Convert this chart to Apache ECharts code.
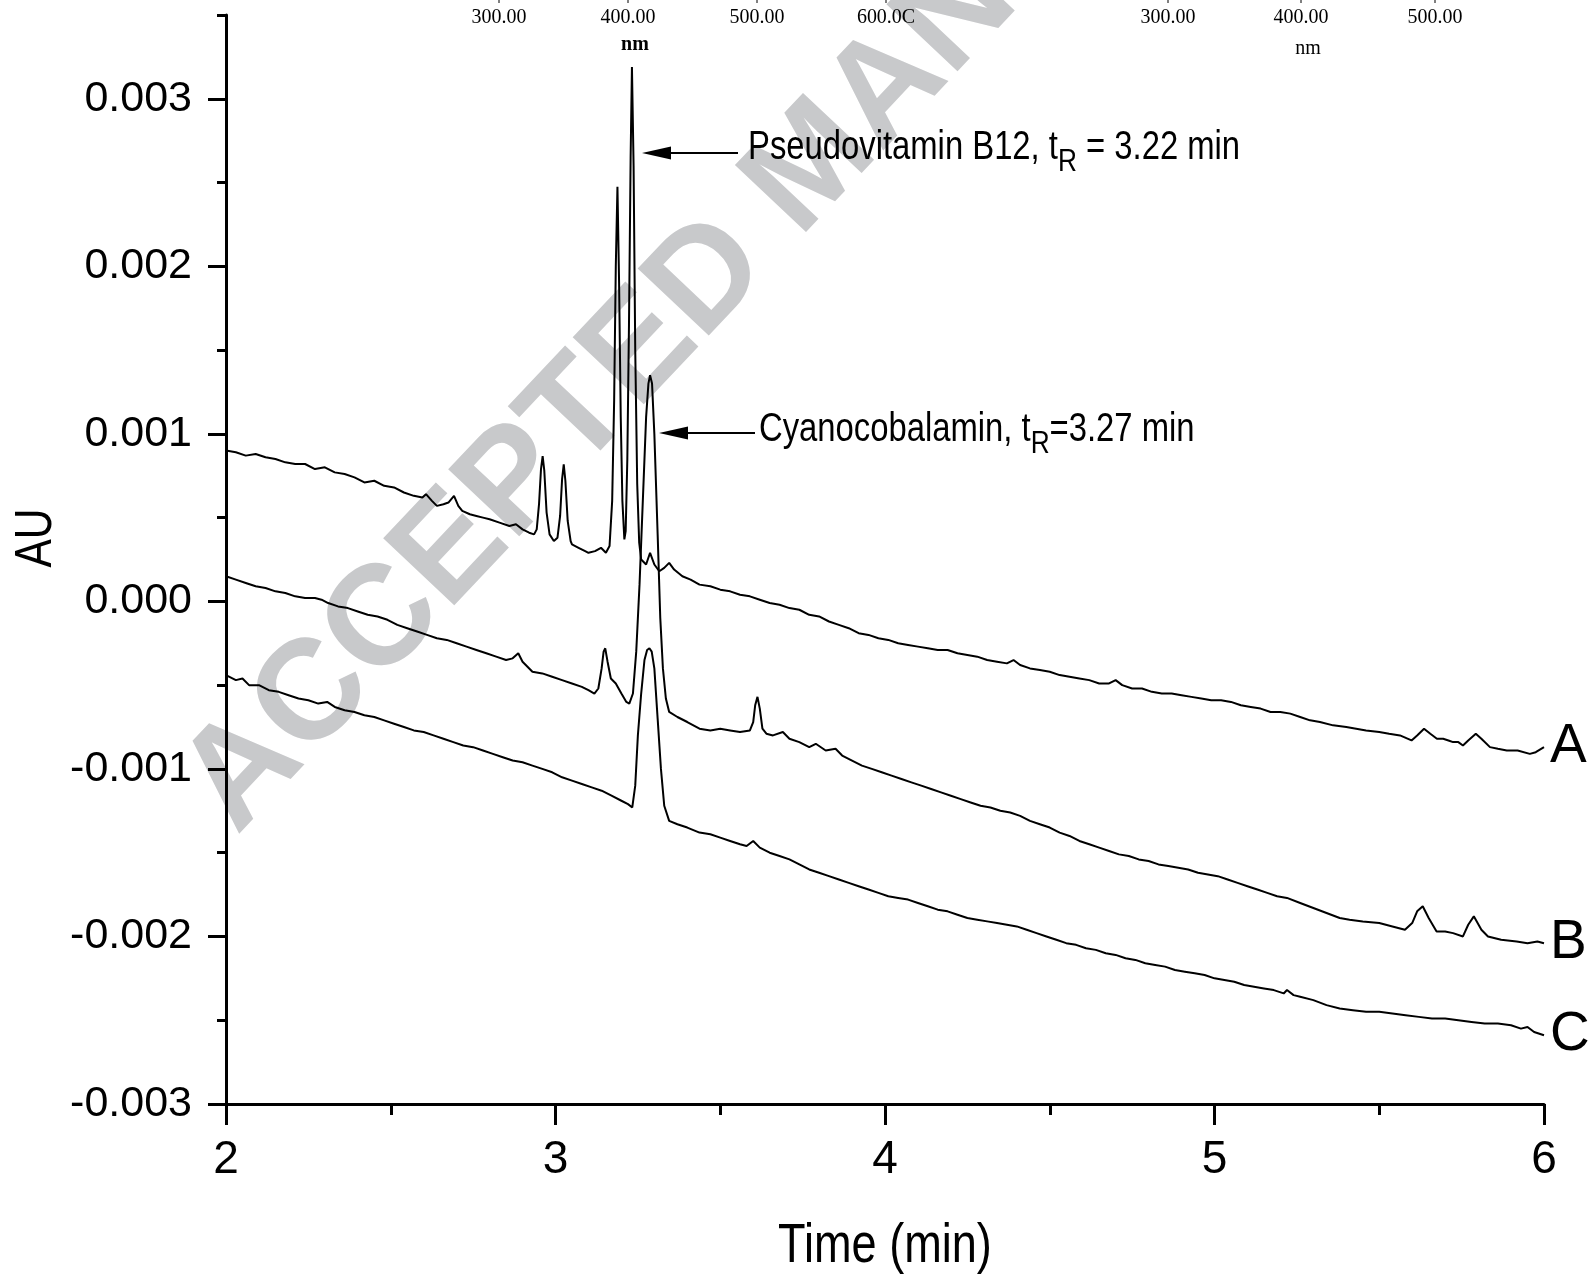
<!DOCTYPE html>
<html>
<head>
<meta charset="utf-8">
<script src="https://cdn.jsdelivr.net/npm/echarts@6/dist/echarts.min.js"></script>
<style>html,body{margin:0;padding:0;background:#fff}#chart{width:1593px;height:1277px}</style>
</head>
<body>
<div id="chart"></div>
<script>
// ---- data (time in min, absorbance in AU) ----
const traceA = [
[2.00,0.00090],[2.03,0.00089],[2.06,0.00087],[2.09,0.00088],[2.12,0.00086],[2.15,0.00085],[2.18,0.00083],[2.21,0.00082],[2.24,0.00082],[2.27,0.00079],
[2.30,0.00080],[2.33,0.00077],[2.36,0.00076],[2.39,0.00074],[2.42,0.00071],[2.45,0.00072],[2.48,0.00069],[2.51,0.00068],[2.54,0.00065],[2.57,0.00063],
[2.596,0.00062],[2.607,0.00064],[2.625,0.00060],[2.64,0.00057],[2.66,0.00058],[2.675,0.00059],[2.692,0.00063],[2.705,0.00057],[2.717,0.00054],[2.74,0.00052],
[2.76,0.00051],[2.78,0.00050],[2.80,0.00049],[2.83,0.00047],[2.86,0.00045],[2.88,0.00046],[2.90,0.00043],[2.92,0.00041],[2.935,0.00040],[2.943,0.00043],
[2.950,0.00058],[2.956,0.00079],[2.961,0.000867],[2.966,0.00078],[2.973,0.00053],[2.982,0.00040],[2.995,0.00036],[3.006,0.00038],[3.014,0.00051],[3.020,0.00073],
[3.025,0.000818],[3.030,0.00072],[3.037,0.00048],[3.046,0.00036],[3.05,0.00034],[3.07,0.00032],[3.09,0.00030],[3.10,0.00029],[3.12,0.00030],[3.138,0.00032],
[3.153,0.00029],[3.164,0.00033],[3.172,0.00060],[3.178,0.00120],[3.183,0.00200],[3.188,0.002475],[3.193,0.00190],[3.198,0.00110],[3.203,0.00060],[3.209,0.00037],
[3.213,0.00042],[3.218,0.00085],[3.223,0.00165],[3.228,0.00265],[3.232,0.00319],[3.237,0.00260],[3.242,0.00150],[3.248,0.00070],[3.254,0.00035],[3.26,0.00025],
[3.275,0.00022],[3.287,0.00029],[3.30,0.00022],[3.315,0.00018],[3.33,0.00020],[3.345,0.00023],[3.36,0.00019],[3.385,0.00015],[3.41,0.00013],[3.437,0.00010],
[3.47,0.00009],[3.50,0.00007],[3.53,0.00006],[3.56,0.00004],[3.59,0.00003],[3.62,0.00001],[3.65,-0.00001],[3.68,-0.00002],[3.71,-0.00004],[3.74,-0.00005],
[3.77,-0.00008],[3.80,-0.00009],[3.83,-0.00012],[3.86,-0.00014],[3.89,-0.00016],[3.92,-0.00019],[3.95,-0.00020],[3.98,-0.00022],[4.01,-0.00023],[4.04,-0.00025],
[4.07,-0.00026],[4.10,-0.00027],[4.13,-0.00028],[4.16,-0.00029],[4.19,-0.00029],[4.22,-0.00031],[4.25,-0.00032],[4.28,-0.00033],[4.31,-0.00035],[4.34,-0.00036],
[4.37,-0.00037],[4.39,-0.00035],[4.41,-0.00038],[4.44,-0.00040],[4.47,-0.00041],[4.50,-0.00042],[4.53,-0.00044],[4.56,-0.00045],[4.59,-0.00046],[4.62,-0.00047],
[4.65,-0.00049],[4.68,-0.00049],[4.70,-0.00047],[4.72,-0.00050],[4.75,-0.00052],[4.78,-0.00052],[4.81,-0.00054],[4.84,-0.00055],[4.87,-0.00055],[4.90,-0.00056],
[4.93,-0.00057],[4.96,-0.00058],[4.99,-0.00059],[5.02,-0.00059],[5.05,-0.00060],[5.08,-0.00062],[5.11,-0.00063],[5.14,-0.00064],[5.17,-0.00066],[5.20,-0.00066],
[5.23,-0.00067],[5.26,-0.00069],[5.29,-0.00071],[5.32,-0.00072],[5.36,-0.00074],[5.40,-0.00075],[5.43,-0.00076],[5.46,-0.00077],[5.50,-0.00078],[5.53,-0.00079],
[5.563,-0.00080],[5.598,-0.00083],[5.615,-0.00080],[5.636,-0.00076],[5.655,-0.00079],[5.675,-0.00082],[5.694,-0.00082],[5.71,-0.00083],[5.724,-0.00084],[5.74,-0.00084],
[5.754,-0.00086],[5.77,-0.00083],[5.793,-0.00079],[5.81,-0.00082],[5.836,-0.00087],[5.86,-0.00088],[5.887,-0.00089],[5.92,-0.00089],[5.957,-0.00091],[5.975,-0.00090],
[6.00,-0.00087]
];
const traceB = [
[2.00,0.00015],[2.03,0.00013],[2.06,0.00011],[2.09,0.00009],[2.12,0.00008],[2.15,0.00006],[2.18,0.00005],[2.21,0.00003],[2.24,0.00002],[2.27,0.00002],
[2.29,0.00001],[2.31,-0.00001],[2.34,-0.00003],[2.37,-0.00004],[2.40,-0.00006],[2.43,-0.00008],[2.46,-0.00009],[2.49,-0.00011],[2.52,-0.00014],[2.55,-0.00016],
[2.58,-0.00018],[2.61,-0.00020],[2.64,-0.00022],[2.67,-0.00023],[2.70,-0.00025],[2.73,-0.00027],[2.76,-0.00029],[2.79,-0.00031],[2.82,-0.00033],[2.85,-0.00035],
[2.87,-0.00034],[2.887,-0.00031],[2.90,-0.00036],[2.93,-0.00042],[2.96,-0.00043],[2.99,-0.00045],[3.02,-0.00047],[3.05,-0.00049],[3.08,-0.00051],[3.10,-0.00053],
[3.118,-0.00055],[3.13,-0.00052],[3.14,-0.00040],[3.146,-0.00030],[3.151,-0.00028],[3.158,-0.00036],[3.168,-0.00046],[3.183,-0.00049],[3.20,-0.00055],[3.215,-0.00060],
[3.224,-0.00061],[3.235,-0.00055],[3.245,-0.00030],[3.255,0.00010],[3.265,0.00060],[3.275,0.00110],[3.282,0.00130],[3.287,0.00135],[3.293,0.00130],[3.30,0.00100],
[3.31,0.00040],[3.318,-0.00010],[3.326,-0.00040],[3.335,-0.00058],[3.345,-0.00066],[3.37,-0.00069],[3.40,-0.00072],[3.437,-0.00076],[3.47,-0.00077],[3.50,-0.00076],
[3.53,-0.00077],[3.56,-0.00078],[3.59,-0.00077],[3.60,-0.00072],[3.606,-0.00062],[3.613,-0.00057],[3.62,-0.00064],[3.628,-0.00076],[3.64,-0.00079],[3.66,-0.00080],
[3.69,-0.00078],[3.71,-0.00082],[3.74,-0.00084],[3.77,-0.00087],[3.79,-0.00085],[3.82,-0.00089],[3.85,-0.00088],[3.87,-0.00092],[3.90,-0.00095],[3.93,-0.00098],
[3.96,-0.00100],[3.99,-0.00102],[4.02,-0.00104],[4.05,-0.00106],[4.08,-0.00108],[4.11,-0.00110],[4.14,-0.00112],[4.17,-0.00114],[4.20,-0.00116],[4.23,-0.00118],
[4.26,-0.00120],[4.29,-0.00122],[4.32,-0.00123],[4.35,-0.00125],[4.38,-0.00126],[4.41,-0.00128],[4.44,-0.00131],[4.47,-0.00133],[4.50,-0.00135],[4.53,-0.00138],
[4.56,-0.00140],[4.59,-0.00143],[4.62,-0.00145],[4.65,-0.00147],[4.68,-0.00149],[4.71,-0.00151],[4.74,-0.00152],[4.77,-0.00154],[4.80,-0.00155],[4.83,-0.00157],
[4.86,-0.00158],[4.89,-0.00159],[4.92,-0.00160],[4.95,-0.00162],[4.98,-0.00163],[5.01,-0.00164],[5.04,-0.00166],[5.07,-0.00168],[5.10,-0.00170],[5.13,-0.00172],
[5.16,-0.00174],[5.19,-0.00176],[5.22,-0.00177],[5.26,-0.00180],[5.30,-0.00183],[5.34,-0.00186],[5.38,-0.00189],[5.41,-0.00190],[5.45,-0.00191],[5.50,-0.00192],
[5.54,-0.00194],[5.578,-0.00196],[5.60,-0.00192],[5.615,-0.00185],[5.632,-0.00182],[5.65,-0.00189],[5.674,-0.00197],[5.70,-0.00197],[5.724,-0.00198],[5.754,-0.00200],
[5.77,-0.00193],[5.787,-0.00188],[5.81,-0.00196],[5.83,-0.00200],[5.87,-0.00202],[5.917,-0.00203],[5.95,-0.00204],[5.98,-0.00203],[6.00,-0.00204]
];
const traceC = [
[2.00,-0.00044],[2.03,-0.00047],[2.05,-0.00046],[2.07,-0.00050],[2.10,-0.00050],[2.13,-0.00053],[2.16,-0.00054],[2.19,-0.00056],[2.22,-0.00058],[2.25,-0.00059],
[2.28,-0.00061],[2.307,-0.00060],[2.33,-0.00063],[2.36,-0.00065],[2.39,-0.00066],[2.42,-0.00068],[2.45,-0.00069],[2.48,-0.00071],[2.51,-0.00073],[2.54,-0.00075],
[2.57,-0.00077],[2.60,-0.00078],[2.63,-0.00080],[2.66,-0.00082],[2.69,-0.00084],[2.72,-0.00086],[2.75,-0.00087],[2.78,-0.00089],[2.81,-0.00091],[2.84,-0.00093],
[2.87,-0.00095],[2.90,-0.00096],[2.93,-0.00098],[2.96,-0.00100],[2.99,-0.00102],[3.02,-0.00105],[3.05,-0.00107],[3.08,-0.00109],[3.11,-0.00111],[3.14,-0.00113],
[3.17,-0.00116],[3.20,-0.00119],[3.22,-0.00121],[3.233,-0.00123],[3.242,-0.00110],[3.25,-0.00080],[3.26,-0.00055],[3.27,-0.00035],[3.278,-0.00029],[3.285,-0.00028],
[3.292,-0.00030],[3.30,-0.00040],[3.31,-0.00070],[3.32,-0.00100],[3.33,-0.00122],[3.345,-0.00131],[3.37,-0.00133],[3.40,-0.00135],[3.437,-0.00138],[3.47,-0.00139],
[3.50,-0.00141],[3.53,-0.00143],[3.56,-0.00145],[3.58,-0.00146],[3.60,-0.00143],[3.62,-0.00147],[3.65,-0.00150],[3.68,-0.00152],[3.71,-0.00154],[3.74,-0.00157],
[3.77,-0.00160],[3.80,-0.00162],[3.83,-0.00164],[3.86,-0.00166],[3.89,-0.00168],[3.92,-0.00170],[3.95,-0.00172],[3.98,-0.00174],[4.01,-0.00176],[4.04,-0.00177],
[4.07,-0.00178],[4.10,-0.00180],[4.13,-0.00182],[4.16,-0.00184],[4.19,-0.00185],[4.22,-0.00187],[4.25,-0.00189],[4.28,-0.00190],[4.31,-0.00191],[4.34,-0.00192],
[4.37,-0.00193],[4.40,-0.00194],[4.43,-0.00196],[4.46,-0.00198],[4.49,-0.00200],[4.52,-0.00202],[4.55,-0.00204],[4.58,-0.00205],[4.61,-0.00207],[4.64,-0.00208],
[4.67,-0.00210],[4.70,-0.00211],[4.73,-0.00213],[4.76,-0.00214],[4.79,-0.00216],[4.82,-0.00217],[4.85,-0.00218],[4.88,-0.00220],[4.91,-0.00221],[4.94,-0.00222],
[4.97,-0.00223],[5.00,-0.00225],[5.03,-0.00226],[5.06,-0.00227],[5.09,-0.00229],[5.12,-0.00230],[5.15,-0.00231],[5.18,-0.00232],[5.21,-0.00234],[5.22,-0.00232],
[5.24,-0.00235],[5.26,-0.00236],[5.30,-0.00238],[5.34,-0.00241],[5.38,-0.00243],[5.42,-0.00244],[5.46,-0.00245],[5.50,-0.00245],[5.54,-0.00246],[5.58,-0.00247],
[5.62,-0.00248],[5.66,-0.00249],[5.70,-0.00249],[5.74,-0.00250],[5.78,-0.00251],[5.82,-0.00252],[5.86,-0.00252],[5.90,-0.00253],[5.93,-0.00255],[5.95,-0.00254],
[5.97,-0.00257],[6.00,-0.00259]
];
const traceNames = ['A', 'B', 'C'];
const yMajorTicks = [-0.003, -0.002, -0.001, 0, 0.001, 0.002, 0.003];
const xMajorTicks = [2, 3, 4, 5, 6];
const wavelengthLabels = ['300.00', '400.00', '500.00', '600.0C', '300.00', '400.00', '500.00'];

// ---- chart ----
const SANS = '"Liberation Sans", Arial, Helvetica, sans-serif';
const chart = echarts.init(document.getElementById('chart'), null, {renderer: 'canvas'});

function lineSeries(name, data) {
  return {
    type: 'line', name: name, data: data, xAxisIndex: 0, yAxisIndex: 0,
    showSymbol: false, symbol: 'none', animation: false, z: 5,
    lineStyle: {color: '#000', width: 2},
    endLabel: {show: true, formatter: name, fontSize: 55, fontFamily: SANS, color: '#000', distance: 6}
  };
}

const wlX = [499, 628, 757, 886, 1168, 1301, 1435];
const graphics = [];
// watermark
graphics.push({
  type: 'text', x: 260, y: 858, rotation: 0.815, z: 0, silent: true,
  style: {text: 'ACCEPTED MANUSCRIPT', font: 'bold 142px "Liberation Sans", Arial, sans-serif', fill: '#c8c9cb', align: 'left', verticalAlign: 'bottom'}
});
// wavelength remnants at top
wavelengthLabels.forEach((t, i) => {
  graphics.push({type: 'text', x: wlX[i], y: 17, z: 10, scaleX: 0.95,
    style: {text: t, font: '21px "Liberation Serif", "Times New Roman", serif', fill: '#000', align: 'center', verticalAlign: 'middle'}});
  graphics.push({type: 'line', z: 10, shape: {x1: wlX[i], y1: 0, x2: wlX[i], y2: 3}, style: {stroke: '#000', lineWidth: 1}});
});
graphics.push({type: 'text', x: 635, y: 45, z: 10, style: {text: 'nm', font: 'bold 20px "Liberation Serif", serif', fill: '#000', align: 'center', verticalAlign: 'middle'}});
graphics.push({type: 'text', x: 1308, y: 49, z: 10, style: {text: 'nm', font: '20px "Liberation Serif", serif', fill: '#000', align: 'center', verticalAlign: 'middle'}});
// arrows + annotation text
function arrow(tipX, y, tailX) {
  graphics.push({type: 'line', z: 10, shape: {x1: tipX + 20, y1: y, x2: tailX, y2: y}, style: {stroke: '#000', lineWidth: 2}});
  graphics.push({type: 'polygon', z: 10, shape: {points: [[tipX, y], [tipX + 29, y - 6.5], [tipX + 29, y + 6.5]]}, style: {fill: '#000'}});
}
arrow(642, 153, 738);
arrow(659, 433, 755);
const rich = {
  m: {fontSize: 40, fontFamily: SANS, fill: '#000', lineHeight: 60},
  s: {fontSize: 32, fontFamily: SANS, fill: '#000', lineHeight: 32, verticalAlign: 'bottom'}
};
graphics.push({type: 'text', x: 748, y: 148, z: 10, scaleX: 0.82,
  style: {text: '{m|Pseudovitamin B12, t}{s|R}{m| = 3.22 min}', rich: rich, align: 'left', verticalAlign: 'middle'}});
graphics.push({type: 'text', x: 759, y: 430, z: 10, scaleX: 0.82,
  style: {text: '{m|Cyanocobalamin, t}{s|R}{m|=3.27 min}', rich: rich, align: 'left', verticalAlign: 'middle'}});
// axis titles
graphics.push({type: 'text', x: 885, y: 1247, z: 10, scaleX: 0.82, style: {text: 'Time (min)', font: '55px ' + SANS, fill: '#000', align: 'center', verticalAlign: 'middle'}});
graphics.push({type: 'text', x: 37, y: 538, rotation: Math.PI / 2, scaleX: 0.82, z: 10, style: {text: 'AU', font: '52px ' + SANS, fill: '#000', align: 'center', verticalAlign: 'middle'}});

const option = {
  backgroundColor: '#fff',
  animation: false,
  grid: {left: 226, right: 49, top: 15, bottom: 173, containLabel: false},
  xAxis: [
    {type: 'value', min: 2, max: 6, interval: 1, position: 'bottom',
      axisLine: {onZero: false, lineStyle: {color: '#000', width: 3}},
      axisTick: {length: 21, lineStyle: {color: '#000', width: 3}},
      axisLabel: {fontSize: 46, fontFamily: SANS, color: '#000', margin: 33,
        customValues: xMajorTicks},
      splitLine: {show: false}},
    {type: 'value', min: 2, max: 6, interval: 0.5, position: 'bottom',
      axisLine: {show: false, onZero: false},
      axisTick: {length: 11, lineStyle: {color: '#000', width: 3}},
      axisLabel: {show: false}, splitLine: {show: false}}
  ],
  yAxis: [
    {type: 'value', min: -0.003, max: 0.0035, interval: 0.001, position: 'left',
      axisLine: {onZero: false, lineStyle: {color: '#000', width: 3}},
      axisTick: {length: 18, lineStyle: {color: '#000', width: 3}, customValues: yMajorTicks},
      axisLabel: {fontSize: 43, fontFamily: SANS, color: '#000', margin: 34,
        customValues: yMajorTicks, formatter: v => v.toFixed(3)},
      splitLine: {show: false}},
    {type: 'value', min: -0.003, max: 0.0035, interval: 0.0005, position: 'left',
      axisLine: {show: false, onZero: false},
      axisTick: {length: 9, lineStyle: {color: '#000', width: 3}},
      axisLabel: {show: false}, splitLine: {show: false}}
  ],
  series: [lineSeries(traceNames[0], traceA), lineSeries(traceNames[1], traceB), lineSeries(traceNames[2], traceC)],
  graphic: graphics
};
chart.setOption(option);
</script>
</body>
</html>
